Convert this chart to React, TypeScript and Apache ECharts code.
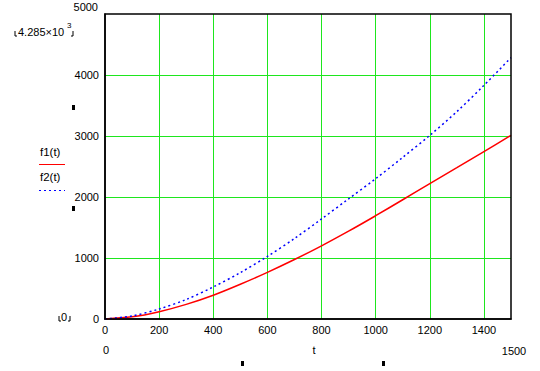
import React, { useEffect, useRef } from "react";
import * as echarts from "echarts";

const tValues = [0, 100, 200, 300, 400, 500, 600, 700, 800, 900, 1000, 1100, 1200, 1300, 1400, 1500];
const f1Values = [0, 35, 120, 240, 390, 570, 765, 975, 1200, 1440, 1693, 1955, 2218, 2480, 2745, 3010];
const f2Values = [0, 50, 164, 320, 525, 760, 1026, 1320, 1640, 1970, 2300, 2650, 3010, 3400, 3830, 4285];
const xTickLabels = ["0", "200", "400", "600", "800", "1000", "1200", "1400"];
const yTickLabels = ["0", "1000", "2000", "3000", "4000"];
const yTopLabel = "5000";
const xRangeLabels = ["0", "t", "1500"];
const legendNames = ["f1(t)", "f2(t)"];
const topLeftLabel = "4.285×10";

const FONT = "'Liberation Sans', Arial, sans-serif";
const GREEN = "#1ee61e";

export default function App() {
  const ref = useRef<HTMLDivElement>(null);
  useEffect(() => {
    if (!ref.current) return;
    const chart = echarts.init(ref.current, undefined, { renderer: "svg" });
    const txt = (x: number, y: number, text: string, align = "center", size = 11) => ({
      type: "text",
      x,
      y,
      style: { text, fill: "#000", font: `${size}px ${FONT}`, align, verticalAlign: "middle" },
    });
    const mark = (x: number, y: number) => ({
      type: "rect",
      shape: { x, y, width: 3, height: 5 },
      style: { fill: "#000" },
    });
    const corner = (pts: number[][]) => ({
      type: "polyline",
      shape: { points: pts },
      style: { stroke: "#000", lineWidth: 1, fill: null },
    });
    chart.setOption({
      animation: false,
      backgroundColor: "#fff",
      grid: { left: 105, right: 29, top: 14, bottom: 52 },
      xAxis: {
        type: "value",
        min: 0,
        max: 1500,
        interval: 200,
        axisLine: { show: true, lineStyle: { color: "#000", width: 1.5 } },
        axisTick: { show: false },
        splitLine: { show: true, showMinLine: false, showMaxLine: false, lineStyle: { color: GREEN, width: 1 } },
        axisLabel: {
          color: "#000",
          fontSize: 11,
          fontFamily: FONT,
          margin: 5,
          showMaxLabel: false,
          formatter: (v: number) => {
            const i = Math.round(v / 200);
            return v % 200 === 0 && xTickLabels[i] !== undefined ? xTickLabels[i] : "";
          },
        },
      },
      yAxis: {
        type: "value",
        min: 0,
        max: 5000,
        interval: 1000,
        axisLine: { show: true, lineStyle: { color: "#000", width: 1.5 } },
        axisTick: { show: false },
        splitLine: { show: true, showMinLine: false, showMaxLine: false, lineStyle: { color: GREEN, width: 1 } },
        axisLabel: {
          color: "#000",
          fontSize: 11,
          fontFamily: FONT,
          margin: 6,
          formatter: (v: number) => {
            const i = Math.round(v / 1000);
            return yTickLabels[i] !== undefined ? yTickLabels[i] : "";
          },
        },
      },
      series: [
        {
          type: "line",
          name: legendNames[0],
          data: tValues.map((t, i) => [t, f1Values[i]]),
          smooth: 0.3,
          showSymbol: false,
          lineStyle: { color: "#ff0000", width: 1.5 },
          z: 3,
        },
        {
          type: "line",
          name: legendNames[1],
          data: tValues.map((t, i) => [t, f2Values[i]]),
          smooth: 0.3,
          showSymbol: false,
          lineStyle: { color: "#0000ff", width: 1.5, type: [2, 3] },
          z: 4,
        },
      ],
      graphic: [
        {
          type: "rect",
          z: 100,
          shape: { x: 105, y: 14, width: 406, height: 305 },
          style: { fill: null, stroke: "#000", lineWidth: 1.5 },
          silent: true,
        },
        txt(98, 7, yTopLabel, "right"),
        txt(106, 350, xRangeLabels[0]),
        txt(314, 350, xRangeLabels[1]),
        txt(514, 351, xRangeLabels[2]),
        // top-left value label
        txt(18, 32, topLeftLabel, "left"),
        txt(67, 25, "3", "left", 8),
        corner([[15, 31], [15, 36], [17, 36]]),
        corner([[73, 31], [73, 36], [71, 36]]),
        // bottom-left 0 label
        txt(64, 317, "0"),
        corner([[59, 316], [59, 321], [61, 321]]),
        corner([[70, 316], [70, 321], [68, 321]]),
        // legend
        txt(40, 152, legendNames[0], "left", 11.5),
        {
          type: "line",
          shape: { x1: 39, y1: 164.5, x2: 65, y2: 164.5 },
          style: { stroke: "#ff0000", lineWidth: 1 },
        },
        txt(40, 177, legendNames[1], "left", 11.5),
        {
          type: "line",
          shape: { x1: 39, y1: 190.5, x2: 65, y2: 190.5 },
          style: { stroke: "#0000ff", lineWidth: 1, lineDash: [2, 3] },
        },
        // placeholder marks
        mark(72, 105),
        mark(72, 206),
        mark(241, 361),
        mark(382, 361),
      ],
    });
    return () => chart.dispose();
  }, []);
  return (
    <div
      ref={ref}
      style={{ position: "fixed", left: 0, top: 0, width: 540, height: 371, background: "#fff" }}
    />
  );
}
